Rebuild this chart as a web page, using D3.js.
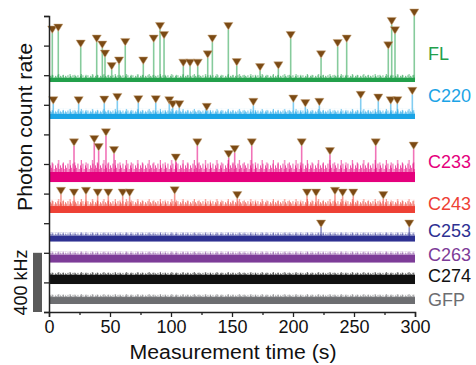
<!DOCTYPE html>
<html><head><meta charset="utf-8">
<script src="https://cdn.jsdelivr.net/npm/d3@7"></script>
<style>body{margin:0;background:#fff}svg{display:block}text{font-family:"Liberation Sans",Arial,sans-serif}</style>
</head><body><svg id="c" width="476" height="365"></svg>
<script>
// ---- data ----
const traceNames = ["FL","C220","C233","C243","C253","C263","C274","GFP"];
const traceColors = ["#22a04b","#1ba4e6","#e5007d","#ee4135","#2e3192","#7d3c98","#111111","#6d6e71"];
const traceBase = [1554,1304,878,669,476,334,189,54];      // kHz, bottom of noise band
const traceCore = [27,34,68,47,41,54,61,47];               // kHz, solid noise band
const traceFuzz = [27,34,81,47,20,20,20,20];               // kHz, jagged noise above band
const labelY = [1700,1420,970,690,510,345,200,40];         // kHz, label baselines

const flTimes = [2.7,7.6,26,39.1,43.7,45.9,51.4,57.4,62.5,77.3,85.8,91,94.3,110.1,115.6,121.9,130.1,133.9,147,153.9,173,188,198.1,223,236.6,244,278.1,280.9,283.6,299.4];
const flPeaks = [317,330,222,256,215,154,70,108,233,108,256,341,280,93,93,93,149,256,341,97,63,75,280,149,226,256,210,375,312,432];
const c220Times = [3.5,24.3,45.3,56,73.2,87.5,98.6,101.4,106.8,129.3,167.5,200.3,210.1,221.6,255.5,269.9,280.1,285.5,297.8];
const c220Peaks = [86,86,90,108,93,93,86,59,59,41,75,97,66,75,122,104,86,86,149];
const c233Times = [20.5,37.1,40.7,46.7,53.3,103.9,121.6,147.3,152.2,166.2,207.1,230.3,267.8,298.9];
const c233Peaks = [210,233,178,278,158,108,210,131,165,210,210,151,210,188];
const c243Times = [9.8,20.5,30.3,39.9,48.6,60.4,66.1,103,154.3,211.5,218.9,234.4,240.7,249.4,274];
const c243Peaks = [102,90,102,90,90,90,90,106,73,90,90,102,90,90,73];
const c253Times = [223,295.3];
const c253Peaks = [77,77];
const eventTimes = [flTimes,c220Times,c233Times,c243Times,c253Times,[],[],[]];
const eventPeaks = [flPeaks,c220Peaks,c233Peaks,c243Peaks,c253Peaks,[],[],[]];

const xTicks = [0,50,100,150,200,250,300];
const xMinor = [25,75,125,175,225,275];
const yTicks = [0,200,400,600,800,1000,1200,1400,1600,1800,2000];
const scaleBarKHz = 400;

// ---- chart ----
const svg = d3.select("#c");
const x = d3.scaleLinear().domain([0,300]).range([49,415]);
const y = d3.scaleLinear().domain([0,2000]).range([312,16]);
const defs = svg.append("defs");
const brown = "#7b4a14";
// texture tiles (style only): [x offset, height fraction]
const tileA = {w:5, bars:[[0,0.55],[1.2,0.35],[2.5,0.7],[3.7,0.25]]};
const tileB = {w:11.3, bars:[[1.7,1],[6.4,0.8]]};

traceNames.forEach((name,i)=>{
  const col = traceColors[i];
  const yb = y(traceBase[i]), yc = y(traceBase[i]+traceCore[i]), yf = y(traceBase[i]+traceCore[i]+traceFuzz[i]);
  const fh = yc - yf;
  [tileA,tileB].forEach((tile,j)=>{
    const p = defs.append("pattern").attr("id",`fz${i}_${j}`).attr("patternUnits","userSpaceOnUse")
      .attr("x",0).attr("y",yf).attr("width",tile.w).attr("height",fh);
    tile.bars.forEach(([px,f])=>{
      p.append("rect").attr("x",px).attr("width",0.9).attr("y",fh*(1-f)).attr("height",fh*f).attr("fill",col);
    });
  });
  const g = svg.append("g");
  // spikes
  eventTimes[i].forEach((t,k)=>{
    const top = y(traceBase[i]+traceCore[i]/2+eventPeaks[i][k]);
    g.append("line").attr("x1",x(t)).attr("x2",x(t)).attr("y1",(yb+yc)/2).attr("y2",top)
      .attr("stroke",col).attr("stroke-width",1.6).attr("stroke-opacity",0.55);
  });
  [0,1].forEach(j=>{
    g.append("rect").attr("x",x(0)).attr("width",x(300)-x(0)).attr("y",yf).attr("height",fh)
      .attr("fill",`url(#fz${i}_${j})`).attr("opacity",0.75);
  });
  g.append("rect").attr("x",x(0)).attr("width",x(300)-x(0)).attr("y",yc).attr("height",yb-yc).attr("fill",col);
  // markers
  eventTimes[i].forEach((t,k)=>{
    const top = y(traceBase[i]+traceCore[i]/2+eventPeaks[i][k]);
    const cx = x(t), cy = top-3.5;
    g.append("path").attr("d",`M${cx-4.6},${cy-3.6}L${cx+4.6},${cy-3.6}L${cx},${cy+3.9}Z`)
      .attr("fill",brown).attr("stroke","#c9a77d").attr("stroke-width",0.5);
  });
  svg.append("text").attr("x",428).attr("y",y(labelY[i])).attr("fill",col)
    .attr("font-size",18).text(name);
});

// axes
const xAxis = svg.append("g").attr("transform","translate(0,312)")
  .call(d3.axisBottom(x).tickValues(xTicks).tickSize(5).tickPadding(3).tickFormat(d3.format("d")));
svg.append("g").attr("transform","translate(0,312)")
  .call(d3.axisBottom(x).tickValues(xMinor).tickSize(3).tickFormat(""))
  .call(g=>g.select(".domain").remove());
xAxis.selectAll("text").attr("font-size",18).attr("fill","#111")
  .attr("font-family","Liberation Sans, Arial, sans-serif");
svg.append("g").attr("transform","translate(49,0)")
  .call(d3.axisLeft(y).tickValues(yTicks).tickSize(5).tickFormat(""));
svg.selectAll(".domain").attr("stroke","#222").attr("stroke-width",1.5);
svg.selectAll(".tick line").attr("stroke","#222").attr("stroke-width",1.3);

// scale bar
svg.append("rect").attr("x",33).attr("width",9).attr("y",y(scaleBarKHz)).attr("height",y(0)-y(scaleBarKHz)).attr("fill","#5a5a5a");
svg.append("text").attr("transform",`translate(27,${(y(0)+y(scaleBarKHz))/2}) rotate(-90)`)
  .attr("text-anchor","middle").attr("font-size",18).attr("fill","#111").text("400 kHz");

// titles
svg.append("text").attr("x",233).attr("y",359).attr("text-anchor","middle").attr("font-size",20)
  .attr("textLength",207).attr("lengthAdjust","spacingAndGlyphs").attr("fill","#111").text("Measurement time (s)");
svg.append("text").attr("transform","translate(32,127) rotate(-90)").attr("text-anchor","middle").attr("font-size",20)
  .attr("textLength",168).attr("lengthAdjust","spacingAndGlyphs").attr("fill","#111").text("Photon count rate");
</script></body></html>
